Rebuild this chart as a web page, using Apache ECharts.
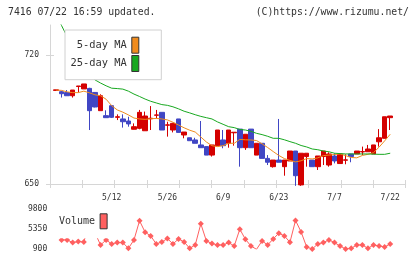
<!DOCTYPE html>
<html>
<head>
<meta charset="utf-8">
<script src="https://cdn.jsdelivr.net/npm/echarts@6/dist/echarts.min.js"></script>
<style>
  html, body { margin: 0; padding: 0; background: #fff; }
  #mainChart { width: 420px; height: 259px; }
</style>
</head>
<body>
<div id="mainChart"></div>
<script>
// trading days shown on the chart
const dates = ['4/23','4/24','4/25','4/28','4/30','5/1','5/2','5/7','5/8','5/9',
  '5/12','5/13','5/14','5/15','5/16','5/19','5/20','5/21','5/22','5/23',
  '5/26','5/27','5/28','5/29','5/30','6/2','6/3','6/4','6/5','6/6',
  '6/9','6/10','6/11','6/12','6/13','6/16','6/17','6/18','6/19','6/20',
  '6/23','6/24','6/25','6/26','6/27','6/30','7/1','7/2','7/3','7/4',
  '7/7','7/8','7/9','7/10','7/11','7/14','7/15','7/16','7/17','7/18','7/22']
const dateLabels = ['5/12','5/26','6/9','6/23','7/7','7/22']
const priceTicks = [650, 720]

const openArr = [700.8,700.1,699.6,697.9,702.9,701.6,701.9,699.7,689.8,687.1,
  692.5,686.2,685.3,684.2,679.7,680.2,678.9,685.4,687.3,688.9,
  681.9,679.3,685.3,676.6,675.1,673.9,671.2,670.3,665.7,670.7,
  673.9,672.1,677.8,679.8,669.7,679.8,665.7,672.1,663.9,659.4,
  663.0,659.4,662.5,667.9,649.5,664.9,663.0,659.4,664.9,660.3,
  665.2,661.1,662.9,666.3,666.3,667.4,667.5,666.3,672.9,674.8,686.0]
const closeArr = [701.1,699.0,697.9,701.0,703.2,704.3,689.8,691.8,697.9,686.0,
  686.2,686.5,683.8,682.6,681.1,688.9,686.9,685.7,687.5,679.3,
  682.1,682.9,678.0,678.2,673.5,672.1,669.7,665.7,671.2,679.3,
  670.8,679.3,678.1,669.7,677.0,669.7,672.1,663.9,661.8,663.0,
  661.8,663.0,667.9,654.5,666.7,666.7,659.4,665.2,667.9,666.3,
  662.5,666.3,663.1,664.9,667.9,667.6,669.0,671.2,675.1,686.5,686.9]
const lowArr = [700.8,696.9,697.9,696.9,699.7,701.6,679.3,691.6,689.8,686.0,
  685.8,684.7,680.6,681.1,679.6,679.7,678.9,679.3,685.6,679.3,
  675.7,678.0,678.0,674.8,673.5,672.1,669.7,665.7,664.9,670.7,
  669.4,669.7,670.8,659.4,668.5,669.7,665.7,663.9,660.3,658.9,
  661.8,654.5,662.5,649.0,649.0,659.4,659.4,657.6,660.3,659.4,
  661.2,661.1,660.7,661.8,666.3,665.7,667.5,666.3,670.3,674.8,679.3]
const highArr = [701.1,700.6,701.0,701.0,703.2,704.3,702.2,699.8,698.7,690.0,
  692.9,687.8,687.8,686.5,682.9,690.2,689.3,692.3,690.2,688.9,
  683.8,683.2,685.3,678.2,675.1,675.1,684.2,670.3,671.2,679.3,
  679.3,679.3,678.2,679.8,677.0,679.8,672.1,672.1,665.7,663.0,
  685.3,663.0,667.9,667.9,666.7,666.7,663.0,665.2,667.9,667.2,
  666.7,666.3,666.1,666.3,667.9,670.3,671.2,671.2,679.8,686.5,686.9]

const ma5 = [701.0,700.8,700.0,699.6,699.6,700.4,699.5,698.4,697.9,696.0,
  692.5,690.2,689.0,687.5,685.8,685.3,685.1,685.4,685.6,685.3,
  684.8,683.5,682.0,680.5,679.2,678.2,675.5,672.8,670.8,670.3,
  670.8,672.1,672.1,674.2,674.0,673.9,673.6,671.8,669.8,667.6,
  665.5,663.8,662.8,662.0,662.6,663.8,663.6,664.2,665.4,665.7,
  666.0,666.3,665.4,664.4,664.2,665.5,666.1,667.0,670.0,673.4,677.0]
const ma25 = [742.0,736.0,730.0,724.0,718.0,713.0,709.5,706.5,704.8,703.3,
  702.0,701.8,701.5,700.4,698.8,697.5,696.1,694.9,694.0,693.1,
  692.7,691.9,690.8,689.5,688.6,687.6,686.7,686.0,685.3,683.7,
  682.4,681.1,680.6,679.6,679.3,678.6,677.5,676.8,675.9,674.8,
  674.8,674.0,673.0,672.1,670.9,670.1,669.0,668.6,667.9,667.5,
  666.7,666.5,666.3,666.3,666.3,666.3,666.3,666.2,666.1,666.1,666.7]

const volume = ['-',2920,2920,2320,2550,2470,6800,4500,1800,2920,
  2020,2320,2320,1050,2920,7180,4640,3820,2020,2470,
  3220,2020,3140,2470,1050,1800,6510,2700,2100,1800,
  1800,2320,1570,5310,3070,1570,830,2700,1800,3140,
  4420,3820,2400,7260,4710,1350,900,2020,2320,2920,
  2320,1570,900,1050,1800,1800,1050,1800,1570,1350,2020]
const volumeTicks = [900, 5350, 9800]

const mono = 'DejaVu Sans Mono'
const axisGray = '#d6d6d6'
const textColor = '#333'

let candleData = []
for (let i in dates) {
  candleData.push([openArr[i], closeArr[i], lowArr[i], highArr[i]])
}

const plotTop = 25
const plotHeight = 159
const bandLeft = 53.2
const bandWidth = 339.8

const option = {
  backgroundColor: '#fff',
  animation: false,
  title: [
    {
      text: '7416 07/22 16:59 updated.',
      left: 8, top: 7, padding: 0,
      textStyle: {fontFamily: mono, fontSize: 9.8, fontWeight: 'normal', color: textColor}
    },
    {
      text: '(C)https://www.rizumu.net/',
      right: 11, top: 7, padding: 0,
      textStyle: {fontFamily: mono, fontSize: 9.8, fontWeight: 'normal', color: textColor}
    }
  ],
  legend: [
    {
      data: [
        {name: '5-day MA', itemStyle: {color: '#f08c1e', borderColor: '#333', borderWidth: 1}},
        {name: '25-day MA', itemStyle: {color: '#18a820', borderColor: '#333', borderWidth: 1}}
      ],
      orient: 'vertical',
      align: 'right',
      left: 65, top: 30,
      padding: [6.7, 22, 7.7, 5.5],
      itemGap: 1.3,
      itemWidth: 7, itemHeight: 16,
      icon: 'rect',
      backgroundColor: '#fff',
      borderColor: '#d0d0d0',
      borderWidth: 1,
      selectedMode: false,
      textStyle: {fontFamily: mono, fontSize: 10.4, color: textColor}
    },
    {
      data: [
        {name: 'Volume', itemStyle: {color: '#ff6060', borderColor: '#333', borderWidth: 1}}
      ],
      orient: 'vertical',
      align: 'right',
      left: 55, top: 210,
      padding: [3.3, 4, 9, 4],
      itemWidth: 7, itemHeight: 15,
      icon: 'rect',
      backgroundColor: '#fff',
      selectedMode: false,
      textStyle: {fontFamily: mono, fontSize: 10, color: textColor}
    }
  ],
  grid: [
    {left: bandLeft, width: bandWidth, top: plotTop, height: plotHeight},
    {left: 50, right: 14.3, top: plotTop, height: plotHeight},
    {left: bandLeft, width: bandWidth, top: 209, height: 40}
  ],
  xAxis: [
    {
      type: 'category', gridIndex: 0, data: dates, boundaryGap: true, position: 'bottom',
      axisLine: {show: false}, axisTick: {show: false}, splitLine: {show: false},
      axisLabel: {
        interval: function (index, value) {
          return dateLabels.indexOf(value) >= 0
        },
        margin: 10,
        fontFamily: mono, fontSize: 8, color: textColor
      }
    },
    {
      type: 'value', gridIndex: 1, min: 0, max: 11, interval: 1, position: 'bottom',
      axisLine: {show: true, lineStyle: {color: axisGray}},
      axisTick: {show: false}, axisLabel: {show: false}, splitLine: {show: false}
    },
    {
      type: 'value', gridIndex: 1, min: 0, max: 11, interval: 1, position: 'bottom', offset: -4,
      axisLine: {show: false},
      axisTick: {show: true, length: 8, lineStyle: {color: axisGray}},
      axisLabel: {show: false}, splitLine: {show: false}
    },
    {
      type: 'category', gridIndex: 2, data: dates, boundaryGap: true, show: false
    }
  ],
  yAxis: [
    {type: 'value', gridIndex: 0, min: 650, max: 736.3, show: false},
    {
      type: 'value', gridIndex: 1, min: 650, max: 736.3, position: 'left',
      axisLine: {show: true, lineStyle: {color: axisGray}},
      axisTick: {show: false}, axisLabel: {show: false}, splitLine: {show: false}
    },
    {
      type: 'value', gridIndex: 1, min: 650, max: 736.3, position: 'left', offset: -4,
      axisLine: {show: false},
      axisTick: {show: true, length: 8, customValues: priceTicks, lineStyle: {color: axisGray}},
      axisLabel: {
        customValues: priceTicks, margin: 15,
        fontFamily: mono, fontSize: 8, color: textColor
      },
      splitLine: {show: false}
    },
    {
      type: 'value', gridIndex: 2, min: 900, max: 9800, interval: 4450, position: 'left',
      axisLine: {show: false}, axisTick: {show: false}, splitLine: {show: false},
      axisLabel: {
        customValues: volumeTicks, margin: 6,
        formatter: function (value) {
          return String(value)
        },
        fontFamily: mono, fontSize: 8, color: textColor
      }
    }
  ],
  series: [
    {
      name: 'price',
      type: 'candlestick',
      xAxisIndex: 0, yAxisIndex: 0,
      barWidth: 5,
      clip: false,
      itemStyle: {
        color: '#d40000', color0: '#4046c4',
        borderColor: '#d40000', borderColor0: '#4046c4',
        borderWidth: 1
      },
      data: candleData
    },
    {
      name: '5-day MA', type: 'line', xAxisIndex: 0, yAxisIndex: 0,
      showSymbol: false, symbol: 'none',
      lineStyle: {color: '#f08c1e', width: 1},
      itemStyle: {color: '#f08c1e'},
      data: ma5
    },
    {
      name: '25-day MA', type: 'line', xAxisIndex: 0, yAxisIndex: 0,
      showSymbol: false, symbol: 'none',
      lineStyle: {color: '#18a820', width: 1},
      itemStyle: {color: '#18a820'},
      data: ma25
    },
    {
      name: 'Volume', type: 'line', xAxisIndex: 3, yAxisIndex: 3,
      symbol: 'diamond', symbolSize: 6, showAllSymbol: true,
      lineStyle: {color: '#ff6060', width: 1},
      itemStyle: {color: '#ff6060'},
      data: volume
    }
  ]
}

const chart = echarts.init(document.getElementById('mainChart'), null, {renderer: 'canvas'})
chart.setOption(option)
</script>
</body>
</html>
